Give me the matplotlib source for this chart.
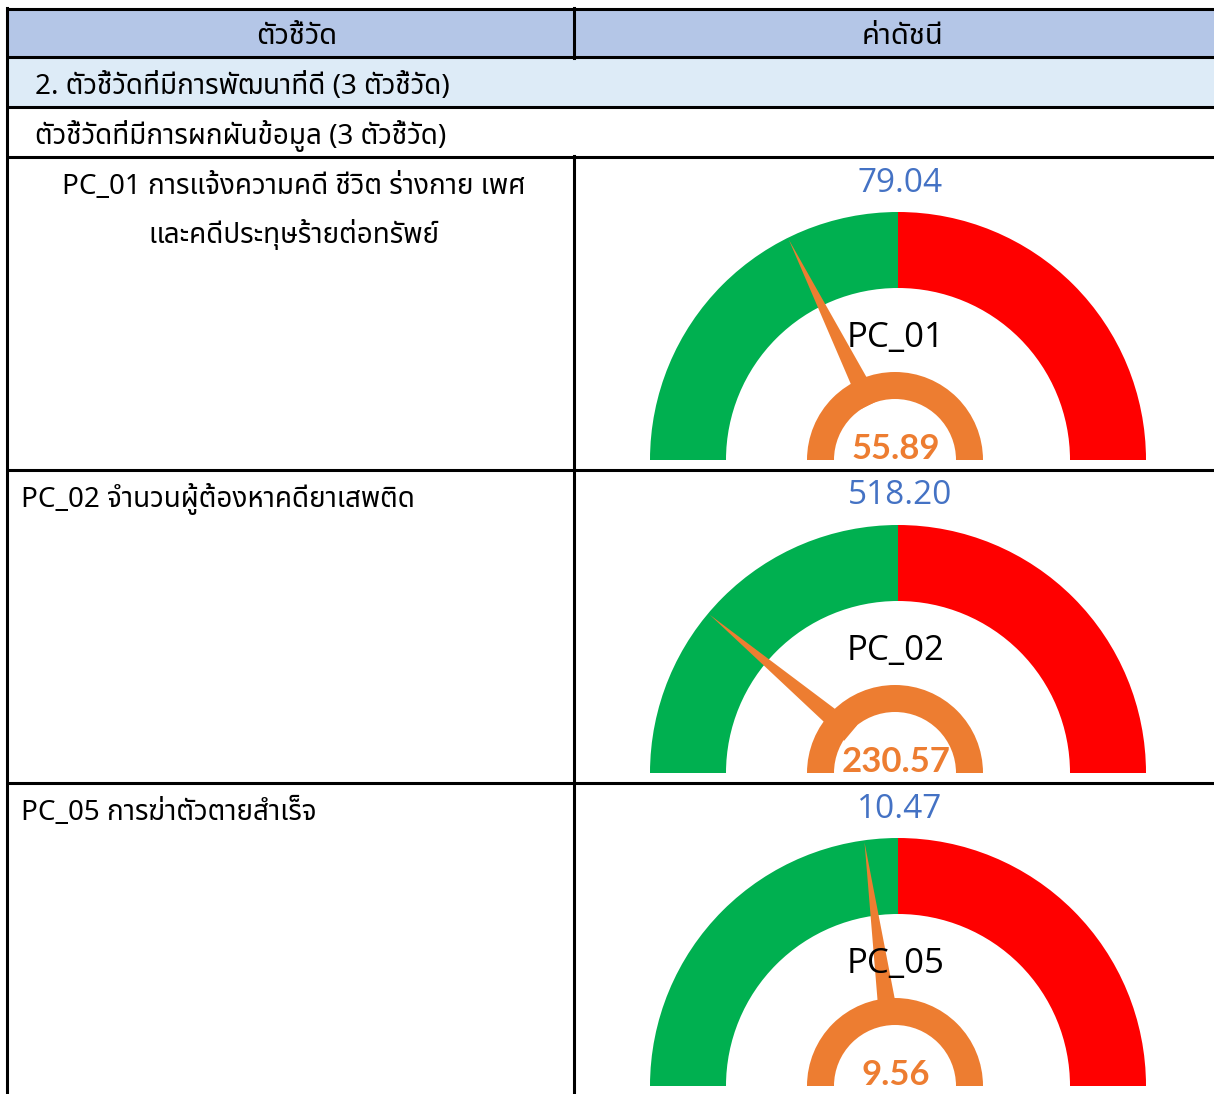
import numpy as np
import matplotlib
matplotlib.use("Agg")
import matplotlib.pyplot as plt
from matplotlib.patches import Wedge, Polygon, Rectangle

# ข้อมูลตัวชี้วัด
codes = ["PC_01", "PC_02", "PC_05"]
names = [
    ["PC_01 การแจ้งความคดี ชีวิต ร่างกาย เพศ", "และคดีประทุษร้ายต่อทรัพย์"],
    ["PC_02 จำนวนผู้ต้องหาคดียาเสพติด"],
    ["PC_05 การฆ่าตัวตายสำเร็จ"],
]
targets = [79.04, 518.20, 10.47]   # ค่าเป้าหมาย (ตรงกลางเกจ)
values = [55.89, 230.57, 9.56]     # ค่าดัชนีจริง

header_left = "ตัวชี้วัด"
header_right = "ค่าดัชนี"
group_title = "2. ตัวชี้วัดที่มีการพัฒนาที่ดี (3 ตัวชี้วัด)"
sub_title = "ตัวชี้วัดที่มีการผกผันข้อมูล (3 ตัวชี้วัด)"

THAI = ["Noto Sans", "Noto Sans Thai", "Sarabun", "Anuphan", "DejaVu Sans"]
plt.rcParams["font.family"] = THAI
FS = 20

W, H = 1214, 1094
fig = plt.figure(figsize=(W / 100, H / 100), dpi=100)
ax = fig.add_axes([0, 0, 1, 1])
ax.set_xlim(0, W)
ax.set_ylim(0, H)
ax.axis("off")


def Y(v):
    # พิกัดจากขอบบน
    return H - v


# พื้นหลังหัวตาราง
ax.add_patch(Rectangle((7, Y(57)), W - 7, 48, color="#B4C6E7", lw=0))
ax.add_patch(Rectangle((7, Y(107)), W - 7, 50, color="#DDEBF7", lw=0))

# เส้นตาราง
row_lines = [9, 57, 107, 157, 470, 783]
for yy in row_lines:
    ax.plot([6, W], [Y(yy), Y(yy)], color="black", lw=2.2, solid_capstyle="butt")
ax.plot([7, 7], [Y(8), 0], color="black", lw=2.2)
ax.plot([574, 574], [Y(8), Y(58)], color="black", lw=2.2)
ax.plot([574, 574], [Y(156), 0], color="black", lw=2.2)

# ข้อความหัวตาราง
ax.text(297, Y(37), header_left, ha="center", va="center", fontsize=21, fontweight="bold")
ax.text(903, Y(37), header_right, ha="center", va="center", fontsize=21, fontweight="bold")
ax.text(35, Y(87), group_title, ha="left", va="center", fontsize=FS)
ax.text(35, Y(136), sub_title, ha="left", va="center", fontsize=FS)

row_tops = [157, 470, 783]
cx = 898
R_out, R_in = 248, 172
r_out, r_in = 88, 61

for i, top in enumerate(row_tops):
    # ชื่อตัวชี้วัด
    if len(names[i]) > 1:
        for k, line in enumerate(names[i]):
            ax.text(294, Y(top + 30 + 48 * k), line, ha="center", va="center", fontsize=FS)
    else:
        ax.text(21, Y(top + 29), names[i][0], ha="left", va="center", fontsize=FS)

    base = Y(top + 303)
    vmax = 2 * targets[i]

    # ส่วนสีเขียว/แดงของเกจ
    ax.add_patch(Wedge((cx, base), R_out, 90, 180, width=R_out - R_in,
                       color="#00B050", lw=0))
    ax.add_patch(Wedge((cx, base), R_out, 0, 90, width=R_out - R_in,
                       color="#FF0000", lw=0))

    # เข็ม
    ang = np.radians(180 - values[i] / vmax * 180)
    d = np.array([np.cos(ang), np.sin(ang)])
    n = np.array([-d[1], d[0]])
    tip = np.array([cx, base]) + d * (R_out - 2)
    b0 = np.array([cx, base]) + d * 62
    needle = Polygon([tip, b0 + n * 10, b0 - n * 10], closed=True,
                     color="#ED7D31", lw=0)
    ax.add_patch(needle)

    # วงแหวนเล็กสีส้ม
    ax.add_patch(Wedge((cx - 3, base), r_out, 0, 180, width=r_out - r_in,
                       color="#ED7D31", lw=0))

    # ข้อความในเกจ
    ax.text(cx + 2, Y(top + 26), f"{targets[i]:.2f}", ha="center", va="center",
            fontsize=24, color="#4472C4", family=["Open Sans", "DejaVu Sans"])
    ax.text(cx - 2, Y(top + 181), codes[i], ha="center", va="center",
            fontsize=25, color="black", family=["Open Sans", "DejaVu Sans"])
    ax.text(cx - 2, base + 1, f"{values[i]:.2f}", ha="center", va="baseline",
            fontsize=25, color="#ED7D31", fontweight="bold",
            family=["Lato", "DejaVu Sans"])

fig.savefig("out.png", dpi=100)
